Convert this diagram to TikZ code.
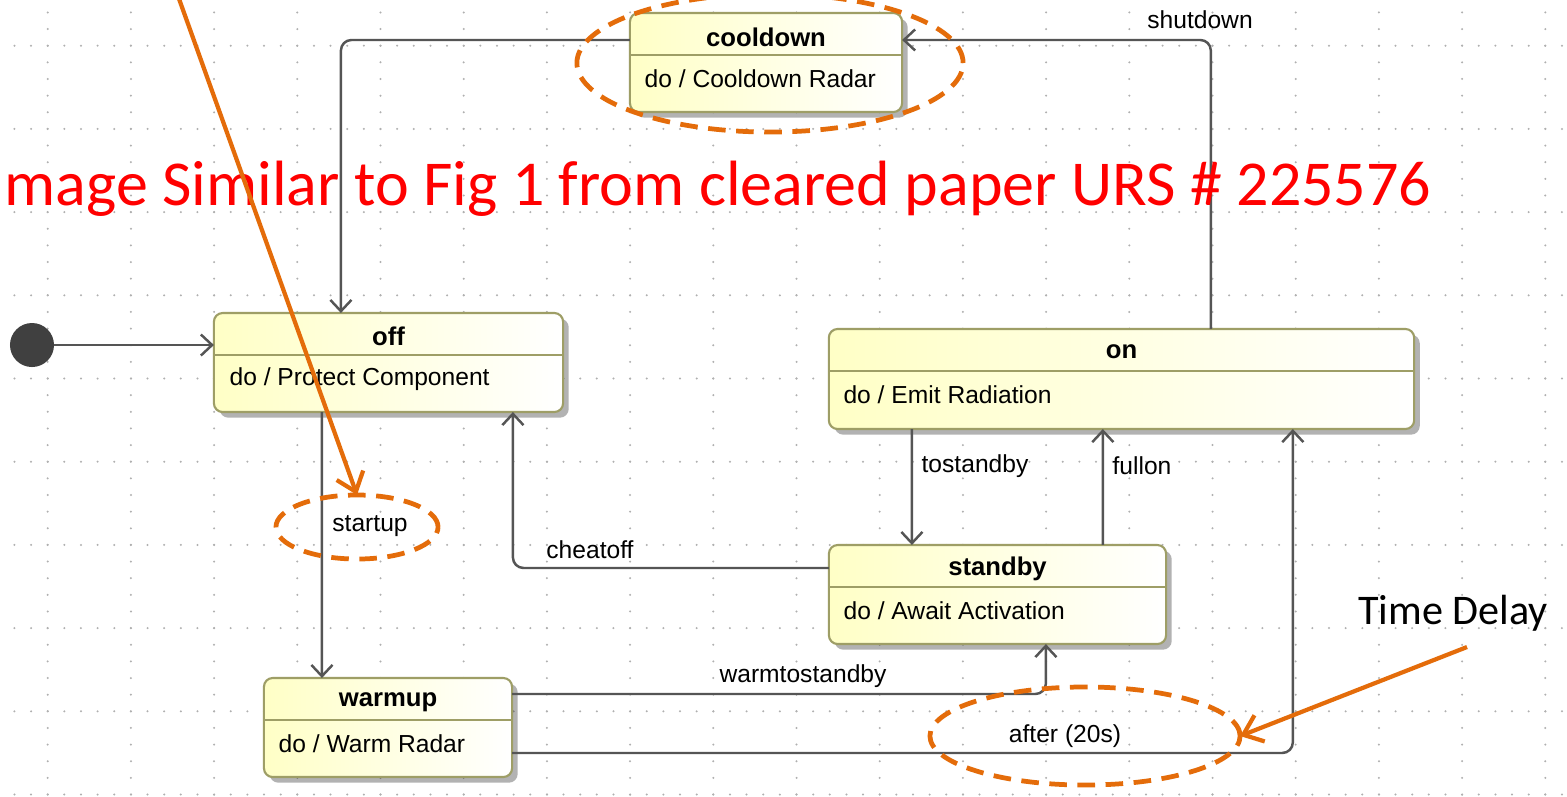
\documentclass[tikz,border=0pt]{standalone}
\usepackage{fontspec}
\setmainfont{Liberation Sans}
\newfontfamily\calib{Carlito}
\usetikzlibrary{arrows.meta,shapes.geometric,shadows,calc}

\definecolor{stateline}{HTML}{9E9E66}
\definecolor{statefill}{HTML}{FFFFC6}
\definecolor{connline}{HTML}{555555}
\definecolor{noteorange}{HTML}{E46C0A}
\definecolor{griddot}{HTML}{B0B0B0}
\definecolor{notered}{HTML}{FF0000}

\begin{document}
\begin{tikzpicture}[x=0.01cm,y=-0.01cm,
  statebox/.style={draw=stateline, line width=0.6pt, rounded corners=2.5pt,
    left color=statefill, right color=white, inner sep=0pt, outer sep=0pt,
    drop shadow={shadow xshift=1.6pt, shadow yshift=-1.6pt, fill=black, opacity=0.3}},
  divider/.style={draw=stateline, line width=0.6pt},
  title/.style={font=\fontsize{7.3}{8}\selectfont\bfseries, inner sep=0pt},
  body/.style={font=\fontsize{7}{8}\selectfont, inner sep=0pt, anchor=west},
  conn/.style={draw=connline, line width=0.7pt, rounded corners=3pt,
    -{Straight Barb[length=3.2pt,width=6pt,line width=0.7pt]}},
  lbl/.style={font=\fontsize{7}{8}\selectfont, inner sep=0pt},
  noteell/.style={ellipse, draw=noteorange, line width=1.35pt, inner sep=0pt,
    outer sep=0pt, dash pattern=on 5pt off 3pt},
  notearrow/.style={draw=noteorange, line width=1.2pt,
    -{Straight Barb[length=5pt,width=8pt,line width=1.2pt]}},
]
\useasboundingbox (0,0) rectangle (1567,796);
\fill[white] (0,0) rectangle (1567,796);

% dotted background grid
\foreach \i in {0,...,18}
  \foreach \k in {-2,...,45}
    \fill[griddot] ({47.7+83.2*\i},{45.7+16.64*\k}) circle (0.32pt);
\foreach \j in {0,...,9}
  \foreach \k in {-2,...,91}
    \fill[griddot] ({47.7+16.64*\k},{45.7+83.2*\j}) circle (0.32pt);

% initial pseudo-state
\node[circle, fill=black!75, minimum size=0.44cm, inner sep=0pt, outer sep=0pt] (init) at (32,345) {};

% states
\node[statebox, minimum width=2.72cm, minimum height=0.99cm] (cooldown) at (766,62.5) {};
\node[statebox, minimum width=3.49cm, minimum height=0.99cm] (off) at (388.5,362.5) {};
\node[statebox, minimum width=5.85cm, minimum height=1.00cm] (on) at (1121.5,379) {};
\node[statebox, minimum width=3.37cm, minimum height=0.99cm] (standby) at (997.5,594.5) {};
\node[statebox, minimum width=2.48cm, minimum height=0.99cm] (warmup) at (388,727.5) {};

\foreach \s in {cooldown,off,on,standby,warmup}
  \draw[divider] ($(\s.north west)+(0,42)$) -- ($(\s.north east)+(0,42)$);

\node[title] (cooldownT) at ($(cooldown.north)+(0,24)$) {cooldown};
\node[body] (cooldownB) at ($(cooldown.north west)+(14,66)$) {do / Cooldown Radar};
\node[title] (offT) at ($(off.north)+(0,23)$) {off};
\node[body] (offB) at ($(off.north west)+(15,66)$) {do / Protect Component};
\node[title] (onT) at ($(on.north)+(0,23)$) {on};
\node[body] (onB) at ($(on.north west)+(14,66)$) {do / Emit Radiation};
\node[title] (standbyT) at ($(standby.north)+(0,24)$) {standby};
\node[body] (standbyB) at ($(standby.north west)+(14,66)$) {do / Await Activation};
\node[title] (warmupT) at ($(warmup.north)+(0,24)$) {warmup};
\node[body] (warmupB) at ($(warmup.north west)+(14,66)$) {do / Warm Radar};

% transitions
\draw[conn] (init.east) -- (off.west |- init.east);
\draw[conn] ($(cooldown.north west)+(0,27)$) -| ($(off.north west)+(127,0)$);
\draw[conn] ($(on.north west)+(382,0)$) |- ($(cooldown.north east)+(0,27)$);
\draw[conn] ($(off.south west)+(108,0)$) -- ($(warmup.north west)+(58,0)$);
\draw[conn] ($(standby.north west)+(0,23)$) -| ($(off.south west)+(299,0)$);
\draw[conn] ($(on.south west)+(83,0)$) -- ($(standby.north west)+(83,0)$);
\draw[conn] ($(standby.north west)+(274,0)$) -- ($(on.south west)+(274,0)$);
\draw[conn] ($(warmup.north east)+(0,16)$) -| ($(standby.south west)+(217,0)$);
\draw[conn] ($(warmup.north east)+(0,75)$) -| ($(on.south west)+(464,0)$);

% transition labels
\node[lbl] (lShutdown) at (1200,20) {shutdown};
\node[lbl] (lStartup) at (370,526) {startup};
\node[lbl] (lCheatoff) at (590,550) {cheatoff};
\node[lbl] (lTostandby) at (975,466) {tostandby};
\node[lbl] (lFullon) at (1142,466) {fullon};
\node[lbl] (lWarm) at (803,676) {warmtostandby};
\node[lbl] (lAfter) at (1065,736) {after (20s)};

% caption text
\node[anchor=base west, inner sep=0pt, text=notered, font=\calib\fontsize{18.2}{20}\selectfont]
  (caption) at (4,205) {mage Similar to Fig 1 from cleared paper URS \# 225576};

% highlights
\node[noteell, minimum width=3.86cm, minimum height=1.38cm] (ellCool) at (770,63) {};
\node[noteell, minimum width=1.62cm, minimum height=0.64cm] (ellStart) at (357,527) {};
\node[noteell, minimum width=3.10cm, minimum height=0.98cm] (ellAfter) at (1085,736) {};

\coordinate (topStart) at (178,-4);
\draw[notearrow] (topStart) -- (ellStart.north);

\node[anchor=base, inner sep=0pt, font=\calib\fontsize{12}{14}\selectfont]
  (timeDelay) at (1453,624) {Time Delay};
\coordinate (delayStart) at (1467,647);
\draw[notearrow] (delayStart) -- (ellAfter.east);
\end{tikzpicture}
\end{document}
